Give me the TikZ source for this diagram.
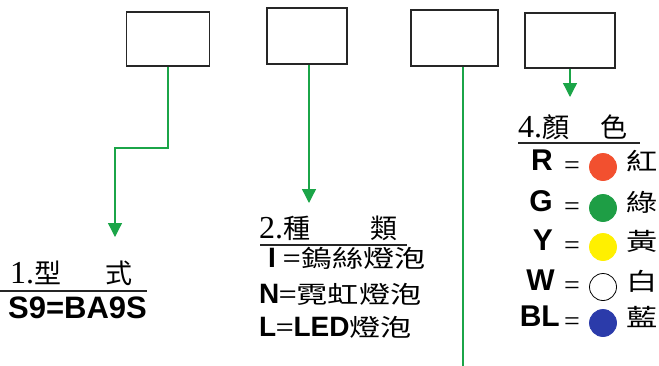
\documentclass[tikz,border=0pt]{standalone}
\usepackage{fontspec}
\setmainfont{Liberation Serif}
\newfontfamily\cjkhd{Noto Sans CJK TC}
\newfontfamily\cjkwide[FakeStretch=1.3]{Noto Sans CJK TC}
\newfontfamily\arialb{Liberation Sans}
\usetikzlibrary{arrows.meta,positioning,calc}
\definecolor{cArrow}{HTML}{1BA548}
\definecolor{cRed}{HTML}{F2502F}
\definecolor{cGreen}{HTML}{1E9E45}
\definecolor{cYellow}{HTML}{FFF000}
\definecolor{cBlue}{HTML}{2B3BAA}
\newcommand{\bfl}[1]{{\fontsize{28}{28}\arialb\bfseries #1}}
\newcommand{\num}[1]{{\fontsize{32}{32}\rmfamily #1}}
\tikzset{
  box/.style  ={rectangle, draw=black!85, line width=1.6pt, inner sep=0pt},
  fl/.style   ={-{Triangle[length=14pt,width=14pt]}, draw=cArrow, line width=1.3pt},
  rule/.style ={draw=black!85, line width=1.1pt},
  hd/.style   ={inner sep=0pt, font=\fontsize{27}{27}\cjkhd},
  lst/.style  ={inner sep=0pt, font=\fontsize{24}{24}\cjkwide,
                text height=.83em, text depth=.07em},
  key/.style  ={inner sep=0pt, font=\fontsize{30}{30}\arialb\bfseries,
                text height=.72em, text depth=0pt},
  eq/.style   ={inner sep=0pt, font=\fontsize{28}{28}\rmfamily},
  clr/.style  ={inner sep=0pt, font=\fontsize{24}{24}\cjkwide,
                text height=.83em, text depth=.07em},
  dot/.style  ={circle, draw=black, line width=0.8pt, minimum size=27pt, inner sep=0pt},
}

\begin{document}
\begin{tikzpicture}[x=1pt,y=-1pt]
  \useasboundingbox (0,0) rectangle (659,365);

  % empty code boxes
  \node[box,minimum width=83pt,minimum height=54pt] (b1) at (168,39) {};
  \node[box,minimum width=80pt,minimum height=56pt] (b2) at (307,36) {};
  \node[box,minimum width=87pt,minimum height=56pt] (b3) at (454.5,38) {};
  \node[box,minimum width=90pt,minimum height=55pt] (b4) at (570,40.5) {};

  % 1. type
  \node[hd,anchor=base west] (h1) at (10,283) {\num{1.}型};
  \node[hd,anchor=base west] (h1b) at (105,283) {式};
  \draw[rule] (0,291) -- (147,291);
  \node[anchor=base west,inner sep=0pt,font=\fontsize{31}{31}\arialb\bfseries] (s9) at (8,318) {S9=BA9S};

  % 2. kind
  \node[hd,anchor=base west] (h2) at (259,238) {\num{2.}種};
  \node[hd,anchor=base west] (h2b) at (370,238) {類};
  \draw[rule] (260,245) -- (407,245);
  \node[lst,anchor=west] (k2i) at (268,264) {\bfl{I}\hspace{8pt}=鎢絲燈泡};
  \node[lst,anchor=west] (k2n) at (259,300) {\bfl{N}=霓虹燈泡};
  \node[lst,anchor=west] (k2l) at (259,333) {\bfl{L}=\bfl{LED}燈泡};

  % 4. colour
  \node[hd,anchor=base west] (h4) at (518,137) {\num{4.}顏};
  \node[hd,anchor=base west] (h4b) at (600,137) {色};
  \draw[rule] (518,143) -- (640,143);

  \node[key,anchor=east] (kr) at (553,167) {R};
  \node[eq] (er) at (572,168) {=};
  \node[dot,fill=cRed,draw=cRed] (dr) at (603,167) {};
  \node[clr,anchor=west] (cr) at (626,167) {紅};

  \node[key,anchor=east] (kg) at (553,208) {G};
  \node[eq] (eg) at (572,209) {=};
  \node[dot,fill=cGreen,draw=cGreen] (dg) at (603,208) {};
  \node[clr,anchor=west] (cg) at (626,208) {綠};

  \node[key,anchor=east] (ky) at (553,247) {Y};
  \node[eq] (ey) at (572,248) {=};
  \node[dot,fill=cYellow,draw=cYellow] (dy) at (603,247) {};
  \node[clr,anchor=west] (cy) at (626,247) {黃};

  \node[key,anchor=east] (kw) at (555,287) {W};
  \node[eq] (ew) at (572,288) {=};
  \node[dot,fill=white] (dw) at (603,287) {};
  \node[clr,anchor=west] (cw) at (626,287) {白};

  \node[key,anchor=east] (kb) at (560,323) {BL};
  \node[eq] (eb) at (572,324) {=};
  \node[dot,fill=cBlue,draw=cBlue] (db) at (603,323) {};
  \node[clr,anchor=west] (cb) at (626,323) {藍};

  % leaders
  \coordinate (k1) at (115,148);
  \coordinate (a1) at (115,237);
  \coordinate (a2) at (309,203);
  \coordinate (e3) at (463,366);
  \coordinate (a4) at (570,97);
  \draw[fl] (b1.south) |- (k1) -- (a1);
  \draw[fl] (b2.south -| a2) -- (a2);
  \draw[fl,-] (b3.south -| e3) -- (e3);
  \draw[fl] (b4.south) -- (a4);
\end{tikzpicture}
\end{document}
